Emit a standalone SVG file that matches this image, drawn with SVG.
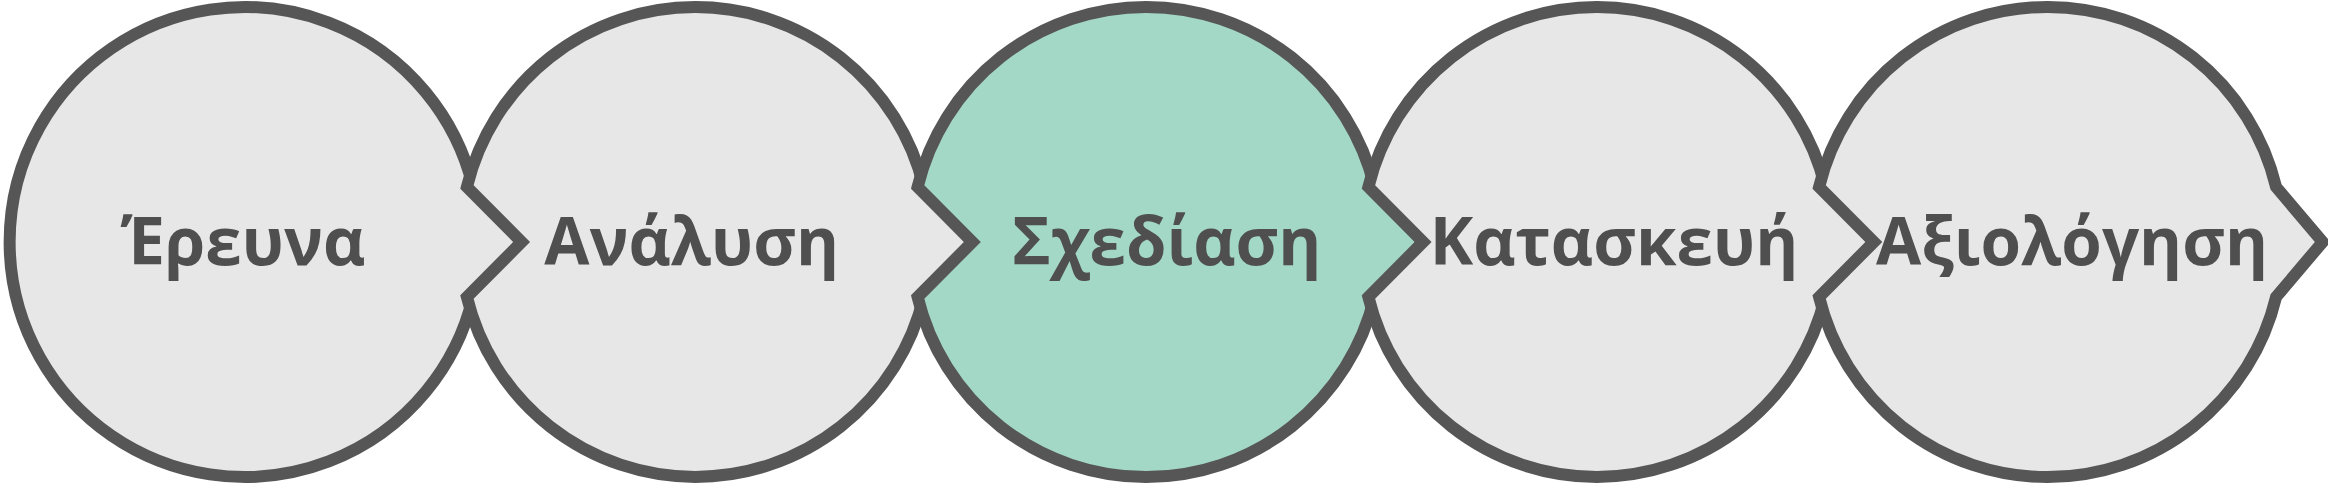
<svg xmlns="http://www.w3.org/2000/svg" width="2328" height="484" viewBox="0 0 2328 484">
<style>
.shape{stroke:#565656;stroke-width:12;stroke-linejoin:miter;stroke-miterlimit:10}
.gray{fill:#e7e7e7}
.green{fill:#a4d8c6}
.lbl{font-family:"Open Sans","Noto Sans",sans-serif;font-weight:700;font-size:65.5px;fill:#4f4f4f;text-anchor:middle}
</style>
<rect width="2328" height="484" fill="#ffffff"/>
<g id="connectors"></g>
<g id="node1">
<path class="shape gray" d="M473.1,187 L521.6,242 L473.1,297 A235,235 0 1 1 473.1,187 Z"/>
<text class="lbl" x="243" y="265">Έρευνα</text>
</g>
<g id="node2">
<path class="shape gray" d="M923.8,187 L972.35,242 L923.8,297 A235,235 0 0 1 466.9,297 L521.6,242 L466.9,187 A235,235 0 0 1 923.8,187 Z"/>
<text class="lbl" x="691.7" y="265">Ανάλυση</text>
</g>
<g id="node3">
<path class="shape green" d="M1374.6,187 L1423.1,242 L1374.6,297 A235,235 0 0 1 917.6,297 L972.35,242 L917.6,187 A235,235 0 0 1 1374.6,187 Z"/>
<text class="lbl" x="1166.7" y="265">Σχεδίαση</text>
</g>
<g id="node4">
<path class="shape gray" d="M1825.3,187 L1873.85,242 L1825.3,297 A235,235 0 0 1 1368.4,297 L1423.1,242 L1368.4,187 A235,235 0 0 1 1825.3,187 Z"/>
<text class="lbl" x="1614" y="265">Κατασκευή</text>
</g>
<g id="node5">
<path class="shape gray" d="M2276.1,187 L2322.6,242 L2276.1,297 A235,235 0 0 1 1819.1,297 L1873.85,242 L1819.1,187 A235,235 0 0 1 2276.1,187 Z"/>
<text class="lbl" x="2072" y="265">Αξιολόγηση</text>
</g>
</svg>
